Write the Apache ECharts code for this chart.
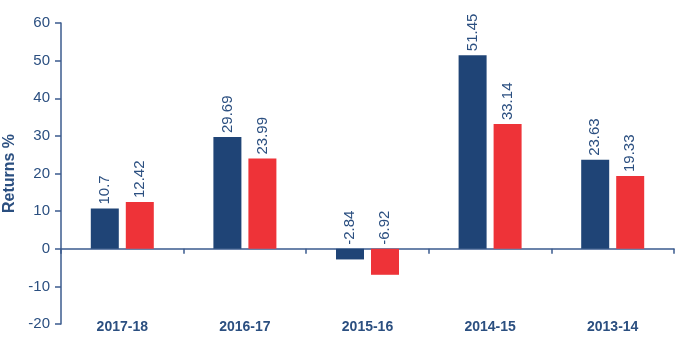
<!DOCTYPE html>
<html>
<head>
<meta charset="utf-8">
<script src="https://cdn.jsdelivr.net/npm/echarts@6/dist/echarts.min.js"></script>
<style>
  html, body { margin: 0; padding: 0; background: #fff; }
  #chart { width: 689px; height: 347px; }
</style>
</head>
<body>
<div id="chart"></div>
<script>
// Financial years and the two return series (%)
const years = ['2017-18', '2016-17', '2015-16', '2014-15', '2013-14'];
const fundReturns = [10.7, 29.69, -2.84, 51.45, 23.63];
const benchmarkReturns = [12.42, 23.99, -6.92, 33.14, 19.33];
const yTicks = { min: -20, max: 60, interval: 10 };

const textColor = '#2b4f80';
const axisColor = '#3b5b8e';
const fontFamily = 'Liberation Sans, Arial, sans-serif';

const chart = echarts.init(document.getElementById('chart'));

function barLabel() {
  return {
    show: true,
    position: 'top',
    rotate: 90,
    align: 'left',
    verticalAlign: 'middle',
    distance: 4,
    color: textColor,
    fontFamily: fontFamily,
    fontSize: 15,
    formatter: p => String(p.value)
  };
}

chart.setOption({
  animation: false,
  grid: {
    left: 61, right: 15, top: 23, bottom: 23,
    containLabel: false,
    outerBoundsMode: 'none'
  },
  xAxis: [
    {
      type: 'category',
      data: years,
      axisLine: { onZero: true, lineStyle: { color: axisColor, width: 1.5 } },
      axisTick: { show: true, length: 5, lineStyle: { color: axisColor, width: 1.5 } },
      axisLabel: { show: false },
      splitLine: { show: false }
    },
    {
      type: 'category',
      data: years,
      position: 'bottom',
      axisLine: { show: false },
      axisTick: { show: false },
      axisLabel: {
        show: true,
        margin: 3,
        color: textColor,
        fontFamily: fontFamily,
        fontSize: 14,
        fontWeight: 'bold',
        verticalAlign: 'middle'
      }
    }
  ],
  yAxis: {
    type: 'value',
    min: yTicks.min,
    max: yTicks.max,
    interval: yTicks.interval,
    name: 'Returns %',
    nameLocation: 'middle',
    nameGap: 43,
    nameMoveOverlap: false,
    nameRotate: 90,
    nameTextStyle: {
      color: textColor,
      fontFamily: fontFamily,
      fontSize: 16,
      fontWeight: 'bold'
    },
    axisLine: { show: true, lineStyle: { color: axisColor, width: 1.5 } },
    axisTick: { show: true, length: 6, lineStyle: { color: axisColor, width: 1.5 } },
    axisLabel: {
      color: textColor,
      fontFamily: fontFamily,
      fontSize: 15,
      margin: 11
    },
    splitLine: { show: false }
  },
  series: [
    {
      type: 'bar',
      xAxisIndex: 0,
      data: fundReturns,
      barWidth: 28,
      barGap: '25%',
      itemStyle: { color: '#1f4476' },
      label: barLabel()
    },
    {
      type: 'bar',
      xAxisIndex: 0,
      data: benchmarkReturns,
      barWidth: 28,
      barGap: '25%',
      itemStyle: { color: '#ee3338' },
      label: barLabel()
    }
  ]
});
</script>
</body>
</html>
